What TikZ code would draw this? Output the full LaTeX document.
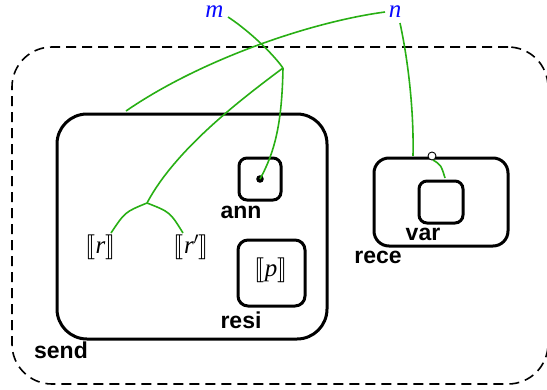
\documentclass[tikz,border=0pt]{standalone}
\usepackage{stmaryrd}
\usepackage{fontspec}
\newfontfamily\lblfont{Liberation Sans}
\newfontfamily\tmsfont{Liberation Serif}
\definecolor{lgreen}{RGB}{40,175,20}
\definecolor{nblue}{RGB}{10,10,255}
\newcommand{\tmi}[1]{{\tmsfont\itshape #1}}
\begin{document}
\begin{tikzpicture}[x=1pt,y=-1pt,
  box/.style={draw=black,line width=3pt,inner sep=0pt},
  lbl/.style={font=\fontsize{23}{27}\selectfont\lblfont\bfseries,inner sep=0pt},
  mth/.style={font=\fontsize{25}{29}\selectfont,inner sep=0pt},
  wire/.style={draw=lgreen,line width=1.6pt},
]
\useasboundingbox (0,0) rectangle (547,389);
% outer dashed region
\node[draw=black,line width=1.6pt,dash pattern=on 10pt off 6pt,rounded corners=40pt,
  minimum width=536pt,minimum height=337pt,inner sep=0pt] (outer) at (280,215.5) {};
% boxes
\node[box,rounded corners=30pt,minimum width=270pt,minimum height=225pt] (send) at (192,226.5) {};
\node[box,rounded corners=8pt,minimum width=42pt,minimum height=42pt] (ann) at (260,179) {};
\node[box,rounded corners=10pt,minimum width=67pt,minimum height=66pt] (resi) at (271.5,273) {};
\node[box,rounded corners=15pt,minimum width=134pt,minimum height=88pt] (rece) at (441,202) {};
\node[box,rounded corners=8pt,minimum width=44pt,minimum height=42pt] (var) at (441,202) {};
% labels
\node[lbl,anchor=base] (lsend) at (61,358) {send};
\node[lbl,anchor=base] (lann) at (241,218) {ann};
\node[lbl,anchor=base] (lresi) at (241,328) {resi};
\node[lbl,anchor=base] (lrece) at (378,263) {rece};
\node[lbl,anchor=base] (lvar) at (423,240) {var};
% math texts
\node[mth] (r) at (100.5,247) {$\llbracket$\tmi{r}$\rrbracket$};
\node[mth] (rp) at (191.5,247) {$\llbracket$\tmi{r}$^{\prime}\rrbracket$};
\node[mth] (p) at (271,270) {$\llbracket$\tmi{p}$\rrbracket$};
\node[mth,text=nblue,anchor=base] (m) at (214.5,17.5) {\tmi{m}};
\node[mth,text=nblue,anchor=base] (n) at (395,17.5) {\tmi{n}};
% dot and small circle
\fill (ann.center) circle (3.8pt);
\coordinate (dot) at (ann.center);
\draw[line width=0.9pt,fill=white] (432,156) circle (4pt);
\coordinate (circ) at (433,160);
% junctions
\coordinate (J1) at (283,68);
\coordinate (J2) at (147,203);
\coordinate (ms) at (228,17);
\coordinate (ns1) at (385,12);
\coordinate (ns2) at (400,23);
\coordinate (se) at (126,111);
\coordinate (re) at (413,156);
\coordinate (ve) at (445,178);
\coordinate (rt) at (111,233);
\coordinate (rpt) at (183,233);
% wires
\draw[wire] (ms) .. controls (245,28) and (270,50) .. (J1);
\draw[wire] (J1) .. controls (282,120) and (276,150) .. (dot);
\draw[wire] (J1) .. controls (240,100) and (175,150) .. (J2);
\draw[wire] (J2) .. controls (125,212) .. (rt);
\draw[wire] (J2) .. controls (170,212) .. (rpt);
\draw[wire] (ns1) .. controls (310,22) and (200,60) .. (se);
\draw[wire] (ns2) .. controls (408,60) and (414,110) .. (re);
\draw[wire] (circ) .. controls (441,165) .. (ve);
\end{tikzpicture}
\end{document}
